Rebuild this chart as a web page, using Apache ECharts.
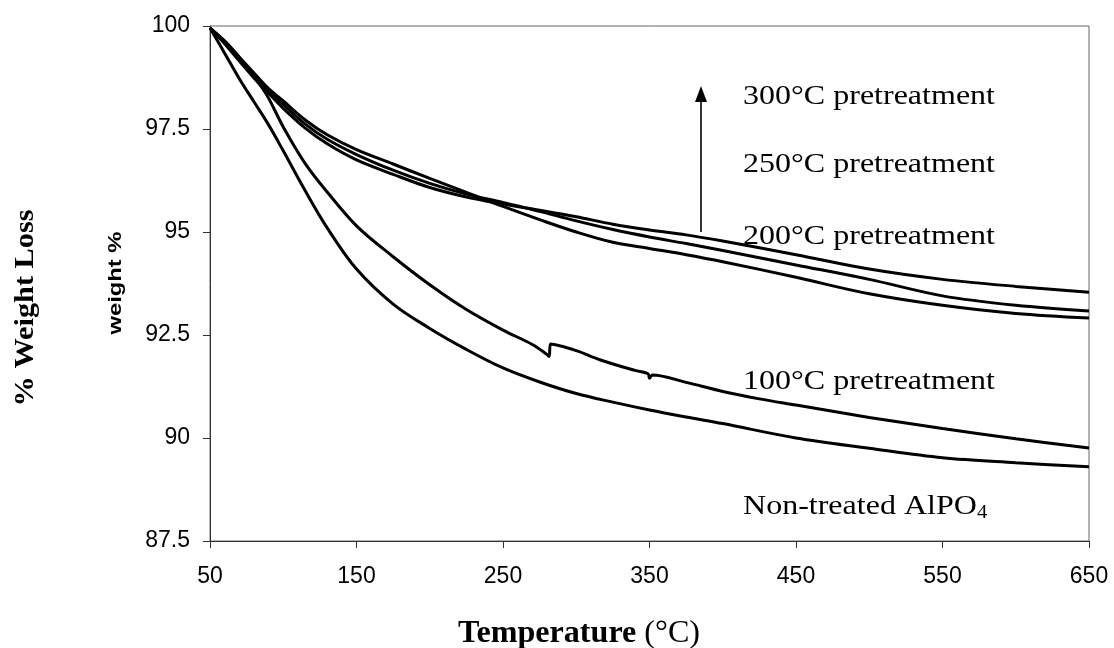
<!DOCTYPE html>
<html><head><meta charset="utf-8">
<script src="https://cdn.jsdelivr.net/npm/echarts@6/dist/echarts.min.js"></script>
<style>html,body{margin:0;padding:0;background:#fff}#c{width:1114px;height:648px}</style>
</head><body><div id="c"></div>
<script>
// ---- data ----
const temps = [50,60,70,80,90,100,115,130,150,175,200,225,250,275,300,325,350,375,400,450,500,550,600,650];
const w300  = [99.95,99.60,99.18,98.77,98.37,98.00,97.52,97.14,96.75,96.40,96.08,95.85,95.68,95.53,95.37,95.19,95.05,94.93,94.78,94.45,94.10,93.85,93.68,93.54];
const w250  = [99.95,99.62,99.22,98.82,98.44,98.10,97.62,97.25,96.88,96.50,96.18,95.92,95.72,95.50,95.27,95.06,94.88,94.72,94.55,94.20,93.85,93.45,93.22,93.08];
const w200  = [99.95,99.64,99.25,98.86,98.48,98.18,97.72,97.36,97.00,96.65,96.30,95.96,95.62,95.30,95.00,94.75,94.60,94.45,94.28,93.90,93.50,93.22,93.02,92.91];
const wNonTreated = [99.95,99.34,98.72,98.16,97.60,96.97,96.00,95.10,94.10,93.25,92.66,92.15,91.70,91.36,91.08,90.87,90.68,90.51,90.35,90.00,89.75,89.52,89.40,89.30];
const temps100 = [50,60,70,80,85,90,100,115,130,150,175,200,225,250,270,280,281.5,282.5,300,316,340,349,350,352,375,400,425,450,500,550,600,650];
const w100  = [99.95,99.57,99.15,98.74,98.53,98.25,97.55,96.66,95.97,95.15,94.40,93.72,93.12,92.62,92.27,92.03,91.98,92.28,92.12,91.90,91.64,91.56,91.45,91.53,91.35,91.13,90.95,90.80,90.50,90.23,89.98,89.76];
const xTicks = [50,150,250,350,450,550,650];
const annotations = ['300°C pretreatment','250°C pretreatment','200°C pretreatment','100°C pretreatment'];
const ntLabel = ['Non-treated AlPO','4'];

const pairs = (xs, ys) => xs.map((x, i) => [x, ys[i]]);

const ctx = document.createElement('canvas').getContext('2d');
function tw(t, f){ ctx.font = f; return ctx.measureText(t).width; }
function txt(t, f, x, y, align){
  return {type:'text', x:x, y:y, style:{text:t, font:f, fill:'#000',
    textAlign:align||'left', align:align||'left', textVerticalAlign:'middle', verticalAlign:'middle'}};
}

const chart = echarts.init(document.getElementById('c'), null, {renderer:'canvas'});

const SERIF = '"Liberation Serif", "Times New Roman", serif';
const SANS = '"Liberation Sans", Arial, sans-serif';
const annFont = '28px ' + SERIF;
const annScale = 252 / tw(annotations[0], annFont);
const annY = [97, 165, 237, 382];
const graphics = [];
annotations.forEach((a, i) => {
  graphics.push({type:'group', x:743, y:annY[i], scaleX:annScale, children:[txt(a, annFont, 0, 0)]});
});
const subFont = '18px ' + SERIF;
graphics.push({type:'group', x:743, y:507, scaleX:annScale, children:[
  txt(ntLabel[0], annFont, 0, 0),
  txt(ntLabel[1], subFont, tw(ntLabel[0], annFont), 6)
]});

// x axis title
const tBold = 'bold 31px ' + SERIF, tNorm = '31px ' + SERIF;
const tw1 = tw('Temperature ', tBold), tw2 = tw('(°C)', tNorm);
const tScale = 242 / (tw1 + tw2);
graphics.push({type:'group', x:458, y:634, scaleX:tScale, children:[
  txt('Temperature ', tBold, 0, 0), txt('(°C)', tNorm, tw1, 0)
]});
// outer y title
const yFont = 'bold 27px ' + SERIF;
const yW = tw('% Weight Loss', yFont);
graphics.push({type:'group', x:26, y:308, rotation:Math.PI/2, scaleX:197/yW, children:[txt('% Weight Loss', yFont, 0, 0, 'center')]});
// axis name
const y2Font = 'bold 19px ' + SANS;
const y2W = tw('weight %', y2Font);
graphics.push({type:'group', x:116, y:283, rotation:Math.PI/2, scaleX:103/y2W, children:[txt('weight %', y2Font, 0, 0, 'center')]});
// arrow
graphics.push({type:'line', shape:{x1:701, y1:232, x2:701, y2:98}, style:{stroke:'#000', lineWidth:1.6}});
graphics.push({type:'polygon', shape:{points:[[701,86],[695,102],[707,102]]}, style:{fill:'#000'}});

const lineSeries = (name, data) => ({
  name, type:'line', data, showSymbol:false, smooth:0.35, clip:true,
  lineStyle:{color:'#000', width:3}, itemStyle:{color:'#000'}, emphasis:{disabled:true}
});

chart.setOption({
  animation:false,
  backgroundColor:'#fff',
  grid:{left:210, right:25, top:26, bottom:107, show:true, borderColor:'#666', borderWidth:1},
  xAxis:{type:'value', min:50, max:650,
    splitLine:{show:false},
    axisLine:{show:true, onZero:false, lineStyle:{color:'#333', width:1}},
    axisTick:{show:true, length:7, customValues:xTicks, lineStyle:{color:'#333'}},
    axisLabel:{customValues:xTicks, fontFamily:SANS, fontSize:23, color:'#000', margin:24}},
  yAxis:{type:'value', min:87.5, max:100, interval:2.5,
    splitLine:{show:false},
    axisLine:{show:true, onZero:false, lineStyle:{color:'#333', width:1}},
    axisTick:{show:true, length:7, lineStyle:{color:'#333'}},
    axisLabel:{fontFamily:SANS, fontSize:23, color:'#000', margin:20}},
  series:[
    lineSeries('300°C pretreatment', pairs(temps, w300)),
    lineSeries('250°C pretreatment', pairs(temps, w250)),
    lineSeries('200°C pretreatment', pairs(temps, w200)),
    lineSeries('100°C pretreatment', pairs(temps100, w100)),
    lineSeries('Non-treated AlPO4', pairs(temps, wNonTreated))
  ],
  graphic:{elements:graphics}
});
</script></body></html>
